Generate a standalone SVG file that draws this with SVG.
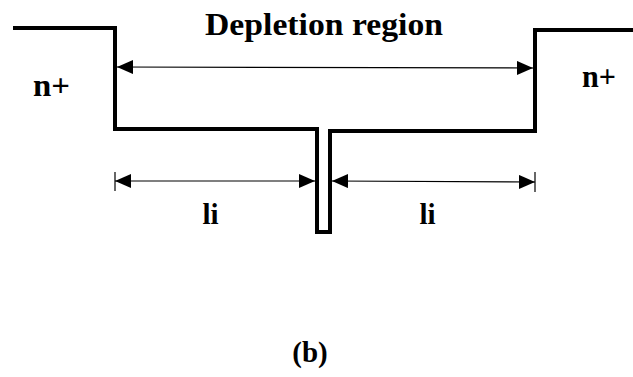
<svg xmlns="http://www.w3.org/2000/svg" width="633" height="377" viewBox="0 0 633 377">
<style>
.wall{fill:none;stroke:#000;stroke-width:4;stroke-linejoin:miter}
.dim{stroke:#000;stroke-width:1.2;fill:none}
.tick{stroke:#000;stroke-width:1.2}
.lbl{font-family:"Liberation Serif",serif;font-weight:bold;fill:#000}
</style>
<defs>
<marker id="ah" viewBox="0 0 16 14" refX="16" refY="7" markerWidth="16" markerHeight="14" markerUnits="userSpaceOnUse" orient="auto-start-reverse">
<path d="M0,0 L16,7 L0,14 Z" fill="#000"/>
</marker>
</defs>
<g id="profile">
<path class="wall" d="M13,28 H115 V129 H317 V232 H330 V131 H535 V30 H633"/>
</g>
<g id="connectors">
<line class="dim" x1="117" y1="67" x2="533" y2="68" marker-start="url(#ah)" marker-end="url(#ah)"/>
<line class="dim" x1="115" y1="181" x2="315" y2="181" marker-start="url(#ah)" marker-end="url(#ah)"/>
<line class="dim" x1="332" y1="181" x2="535" y2="182" marker-start="url(#ah)" marker-end="url(#ah)"/>
<line class="tick" x1="115" y1="172" x2="115" y2="191"/>
<line class="tick" x1="535" y1="172" x2="535" y2="192"/>
</g>
<g id="title"><text class="lbl" x="205" y="35" font-size="32" textLength="238" lengthAdjust="spacingAndGlyphs">Depletion region</text></g>
<g id="n-left"><text class="lbl" x="33" y="96" font-size="31" textLength="37" lengthAdjust="spacingAndGlyphs">n+</text></g>
<g id="n-right"><text class="lbl" x="582" y="87" font-size="31" textLength="34" lengthAdjust="spacingAndGlyphs">n+</text></g>
<g id="li-left"><text class="lbl" x="210.5" y="224" font-size="29" text-anchor="middle">li</text></g>
<g id="li-right"><text class="lbl" x="427.5" y="224" font-size="29" text-anchor="middle">li</text></g>
<g id="caption"><text class="lbl" x="310" y="362" font-size="29" text-anchor="middle">(b)</text></g>
</svg>
